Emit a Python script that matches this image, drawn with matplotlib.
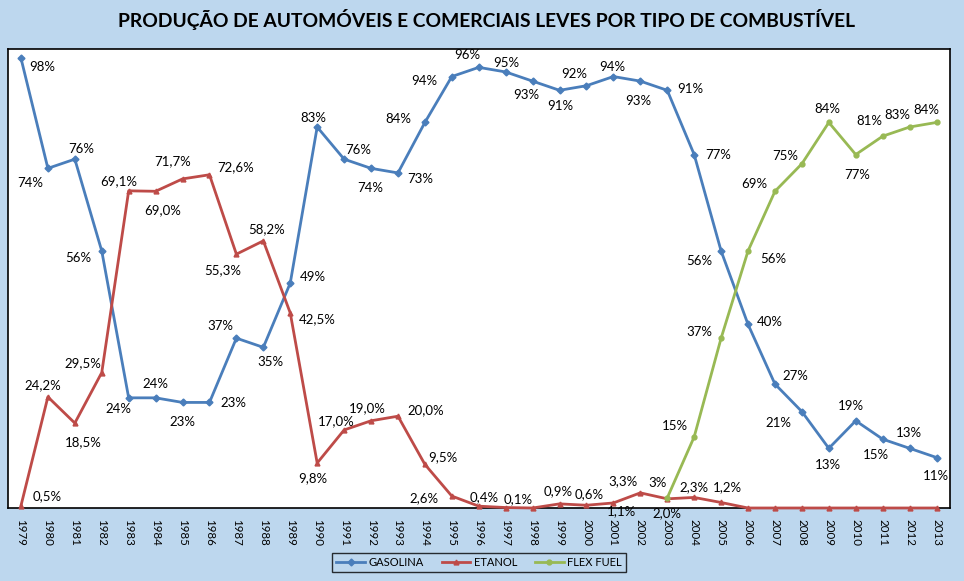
import matplotlib
matplotlib.use("Agg")
import matplotlib.pyplot as plt
from matplotlib.lines import Line2D

plt.rcParams['font.family'] = ['Lato', 'DejaVu Sans']

years = list(range(1979, 2014))
gasolina = [98, 74, 76, 56, 24, 24, 23, 23, 37, 35, 49, 83, 76, 74, 73, 84, 94, 96, 95, 93,
            91, 92, 94, 93, 91, 77, 56, 40, 27, 21, 13, 19, 15, 13, 11]
etanol = [0.5, 24.2, 18.5, 29.5, 69.1, 69.0, 71.7, 72.6, 55.3, 58.2, 42.5, 9.8, 17.0, 19.0, 20.0,
          9.5, 2.6, 0.4, 0.1, 0.0, 0.9, 0.6, 1.1, 3.3, 2.0, 2.3, 1.2, 0, 0, 0, 0, 0, 0, 0, 0]
etanol_labels = ['0,5%', '24,2%', '18,5%', '29,5%', '69,1%', '69,0%', '71,7%', '72,6%', '55,3%',
                 '58,2%', '42,5%', '9,8%', '17,0%', '19,0%', '20,0%', '9,5%', '2,6%', '0,4%',
                 '0,1%', '', '0,9%', '0,6%', '1,1%', '3,3%', '2,0%', '2,3%', '1,2%',
                 '', '', '', '', '', '', '', '']
flex_years = list(range(2003, 2014))
flex = [2.2, 15.5, 37, 56, 69, 75, 84, 77, 81, 83, 84]
flex_labels = ['3%', '15%', '37%', '56%', '69%', '75%', '84%', '77%', '81%', '83%', '84%']

# label offsets in pixels (dx right, dy down) -- layout only
gas_off = [(21, 9), (-18, 15), (6, -10), (-23, 7), (-10, 11), (0, -14), (0, 20), (24, 1),
           (-16, -12), (7, 15), (23, -6), (-4, -9), (14, -9), (-1, 20), (22, 6), (-27, -3),
           (-28, 4), (-11, -12), (1, -9), (-6, 14), (1, 16), (-12, -12), (-1, -10), (-2, 20),
           (23, -1), (24, 0), (-22, 10), (22, -2), (20, -8), (-23, 11), (-1, 17), (-5, -15),
           (-7, 16), (-1, -15), (-1, 18)]
eta_off = [(26, -10), (-5, -12), (8, 19), (-19, -9), (-10, -10), (7, 19), (-10, -18), (26, -8),
           (-14, 16), (3, -12), (27, 6), (-4, 15), (-8, -9), (-4, -13), (28, -6), (18, -7),
           (-28, 2), (5, -9), (13, -8), (0, 0), (-1, -13), (3, -11), (8, 8), (-17, -12),
           (0, 14), (0, -10), (6, -15), (0, 0), (0, 0), (0, 0), (0, 0), (0, 0), (0, 0), (0, 0), (0, 0)]
flex_off = [(-10, -15), (-19, -11), (-22, -6), (25, 8), (-21, -7), (-17, -8), (-1, -13),
            (1, 20), (-13, -15), (-12, -12), (-10, -12)]

bg = '#BDD7EE'
c_gas = '#4A7EBB'
c_eta = '#BE4B48'
c_flex = '#98B954'

fig = plt.figure(figsize=(9.64, 5.81), dpi=100, facecolor=bg)
ax = fig.add_axes([7.5 / 964, 1 - 508 / 581, (950 - 7.5) / 964, (508 - 49) / 581])
ax.set_facecolor('white')

x_all = list(range(len(years)))
x_flex = [years.index(y) for y in flex_years]

ax.plot(x_all, gasolina, color=c_gas, lw=2, marker='D', ms=3.5, zorder=5, clip_on=False)
ax.plot(x_all, etanol, color=c_eta, lw=2, marker='^', ms=3.5, zorder=5, clip_on=False)
ax.plot(x_flex, flex, color=c_flex, lw=2, marker='o', ms=3.5, zorder=5, clip_on=False)

fs = 9.5
for i, v in enumerate(gasolina):
    dx, dy = gas_off[i]
    ax.annotate(f'{v}%', (x_all[i], v), xytext=(dx * 0.72, -dy * 0.72), textcoords='offset points',
                ha='center', va='center', fontsize=fs, color='black', zorder=6, annotation_clip=False)
for i, v in enumerate(etanol):
    if not etanol_labels[i]:
        continue
    dx, dy = eta_off[i]
    ax.annotate(etanol_labels[i], (x_all[i], v), xytext=(dx * 0.72, -dy * 0.72), textcoords='offset points',
                ha='center', va='center', fontsize=fs, color='black', zorder=6, annotation_clip=False)
for i, v in enumerate(flex):
    dx, dy = flex_off[i]
    ax.annotate(flex_labels[i], (x_flex[i], v), xytext=(dx * 0.72, -dy * 0.72), textcoords='offset points',
                ha='center', va='center', fontsize=fs, color='black', zorder=6, annotation_clip=False)

ax.set_xlim(-0.5, len(years) - 0.5)
ax.set_ylim(0, 100)
ax.set_yticks([])
ax.set_xticks(x_all)
ax.set_xticklabels([str(y) for y in years], rotation=-90, fontsize=8.3)
ax.tick_params(axis='x', length=0, pad=8)
for s in ax.spines.values():
    s.set_color('black')
    s.set_linewidth(1.2)

fig.text(486 / 964, 1 - 20 / 581, 'PRODUÇÃO DE AUTOMÓVEIS E COMERCIAIS LEVES POR TIPO DE COMBUSTÍVEL',
         ha='center', va='center', fontsize=13.9, fontweight='bold')

handles = [Line2D([], [], color=c_gas, lw=2, marker='D', ms=3.5),
           Line2D([], [], color=c_eta, lw=2, marker='^', ms=3.5),
           Line2D([], [], color=c_flex, lw=2, marker='o', ms=3.5)]
leg = fig.legend(handles, ['GASOLINA', 'ETANOL', 'FLEX FUEL'], loc='center',
                 bbox_to_anchor=(479 / 964, 1 - 562.5 / 581), ncol=3, fontsize=8,
                 frameon=True, fancybox=False, edgecolor='black', facecolor=bg,
                 handlelength=2.6, columnspacing=1.6, handletextpad=0.3, borderpad=0.4)
leg.get_frame().set_linewidth(1.0)

fig.savefig('out.png', dpi=100, facecolor=bg)
